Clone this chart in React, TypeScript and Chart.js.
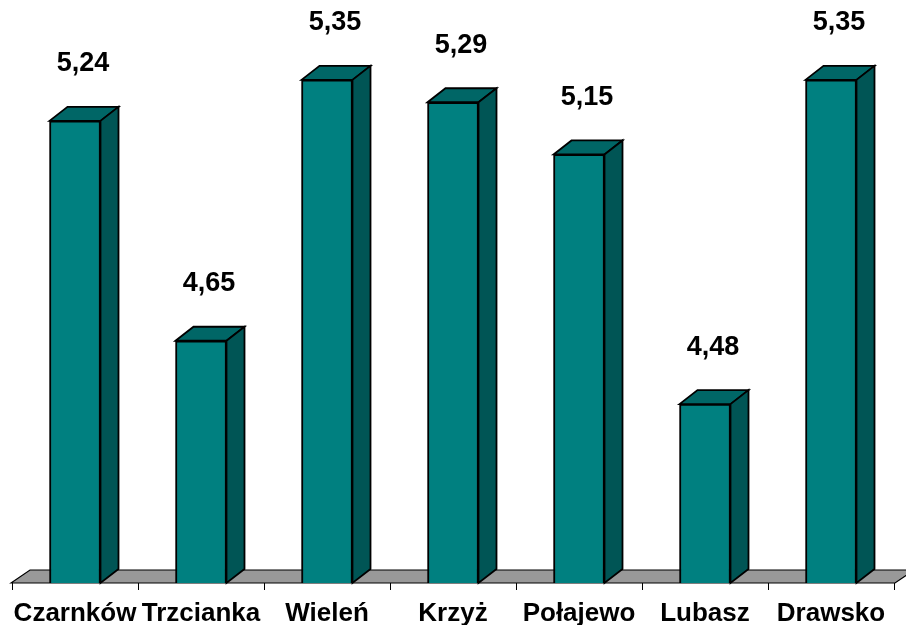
import React, { useEffect, useRef } from "react";
import { Chart, registerables } from "chart.js";

Chart.register(...registerables);

const categories = ["Czarnków", "Trzcianka", "Wieleń", "Krzyż", "Połajewo", "Lubasz", "Drawsko"];
const values = [5.24, 4.65, 5.35, 5.29, 5.15, 4.48, 5.35];
const yMin = 4;
const yMax = 5.5;

const DX = 18;
const DY = 14;
const FONT = "bold 27px 'Liberation Sans', Arial, sans-serif";

const fmt = (v: number) => v.toFixed(2).replace(".", ",");

const floorPlugin = {
  id: "floor3d",
  beforeDatasetsDraw(chart: any) {
    const { ctx, chartArea } = chart;
    const l = chartArea.left - 1;
    const r = chartArea.right + 1;
    const b = chartArea.bottom;
    ctx.save();
    ctx.beginPath();
    ctx.moveTo(l, b);
    ctx.lineTo(l + DX + 1, b - 13);
    ctx.lineTo(r + DX + 1, b - 13);
    ctx.lineTo(r, b);
    ctx.closePath();
    ctx.fillStyle = "#999999";
    ctx.fill();
    ctx.lineWidth = 1.2;
    ctx.strokeStyle = "#000000";
    ctx.stroke();
    ctx.restore();
  },
};

const bars3dPlugin = {
  id: "bars3d",
  afterDatasetsDraw(chart: any) {
    const { ctx } = chart;
    const meta = chart.getDatasetMeta(0);
    ctx.save();
    ctx.lineWidth = 1.8;
    ctx.strokeStyle = "#000000";
    ctx.lineJoin = "miter";
    meta.data.forEach((bar: any, i: number) => {
      const props = bar.getProps(["x", "y", "base", "width"], true);
      const x1 = props.x - props.width / 2;
      const x2 = props.x + props.width / 2;
      const yt = props.y;
      const yb = props.base;
      ctx.beginPath();
      ctx.moveTo(x1, yt);
      ctx.lineTo(x1 + DX, yt - DY);
      ctx.lineTo(x2 + DX, yt - DY);
      ctx.lineTo(x2, yt);
      ctx.closePath();
      ctx.fillStyle = "rgb(0,102,102)";
      ctx.fill();
      ctx.stroke();
      ctx.beginPath();
      ctx.moveTo(x2, yt);
      ctx.lineTo(x2 + DX, yt - DY);
      ctx.lineTo(x2 + DX, yb - DY);
      ctx.lineTo(x2, yb);
      ctx.closePath();
      ctx.fillStyle = "rgb(0,85,85)";
      ctx.fill();
      ctx.stroke();
      ctx.fillStyle = "#000000";
      ctx.font = FONT;
      ctx.textAlign = "center";
      ctx.textBaseline = "middle";
      ctx.fillText(fmt(values[i]), props.x + 8, yt - 57);
    });
    ctx.restore();
  },
};

export default function App() {
  const canvasRef = useRef<HTMLCanvasElement | null>(null);

  useEffect(() => {
    if (!canvasRef.current) return;
    const chart = new Chart(canvasRef.current, {
      type: "bar",
      data: {
        labels: categories,
        datasets: [
          {
            data: values,
            backgroundColor: "rgb(0,128,128)",
            borderColor: "#000000",
            borderWidth: 2,
            barThickness: 51,
            base: yMin,
          } as any,
        ],
      },
      options: {
        animation: false,
        responsive: false,
        maintainAspectRatio: false,
        layout: { padding: { left: 12, right: 12, top: 24, bottom: 0 } },
        plugins: {
          legend: { display: false },
          tooltip: { enabled: false },
        },
        scales: {
          x: {
            offset: true,
            border: { display: false },
            afterFit: (scale: any) => {
              scale.height = 42;
            },
            grid: {
              offset: true,
              drawOnChartArea: false,
              drawTicks: true,
              tickLength: 7,
              color: "#000000",
            },
            ticks: {
              autoSkip: false,
              maxRotation: 0,
              minRotation: 0,
              padding: 8,
              color: "#000000",
              font: { family: "'Liberation Sans', Arial, sans-serif", size: 26, weight: "bold" },
            },
          },
          y: {
            display: false,
            min: yMin,
            max: yMax,
          },
        },
      },
      plugins: [floorPlugin, bars3dPlugin],
    });
    return () => chart.destroy();
  }, []);

  return (
    <div style={{ position: "absolute", left: 0, top: 0, width: 906, height: 625, background: "#ffffff" }}>
      <canvas ref={canvasRef} width={906} height={625} style={{ width: 906, height: 625 }} />
    </div>
  );
}
